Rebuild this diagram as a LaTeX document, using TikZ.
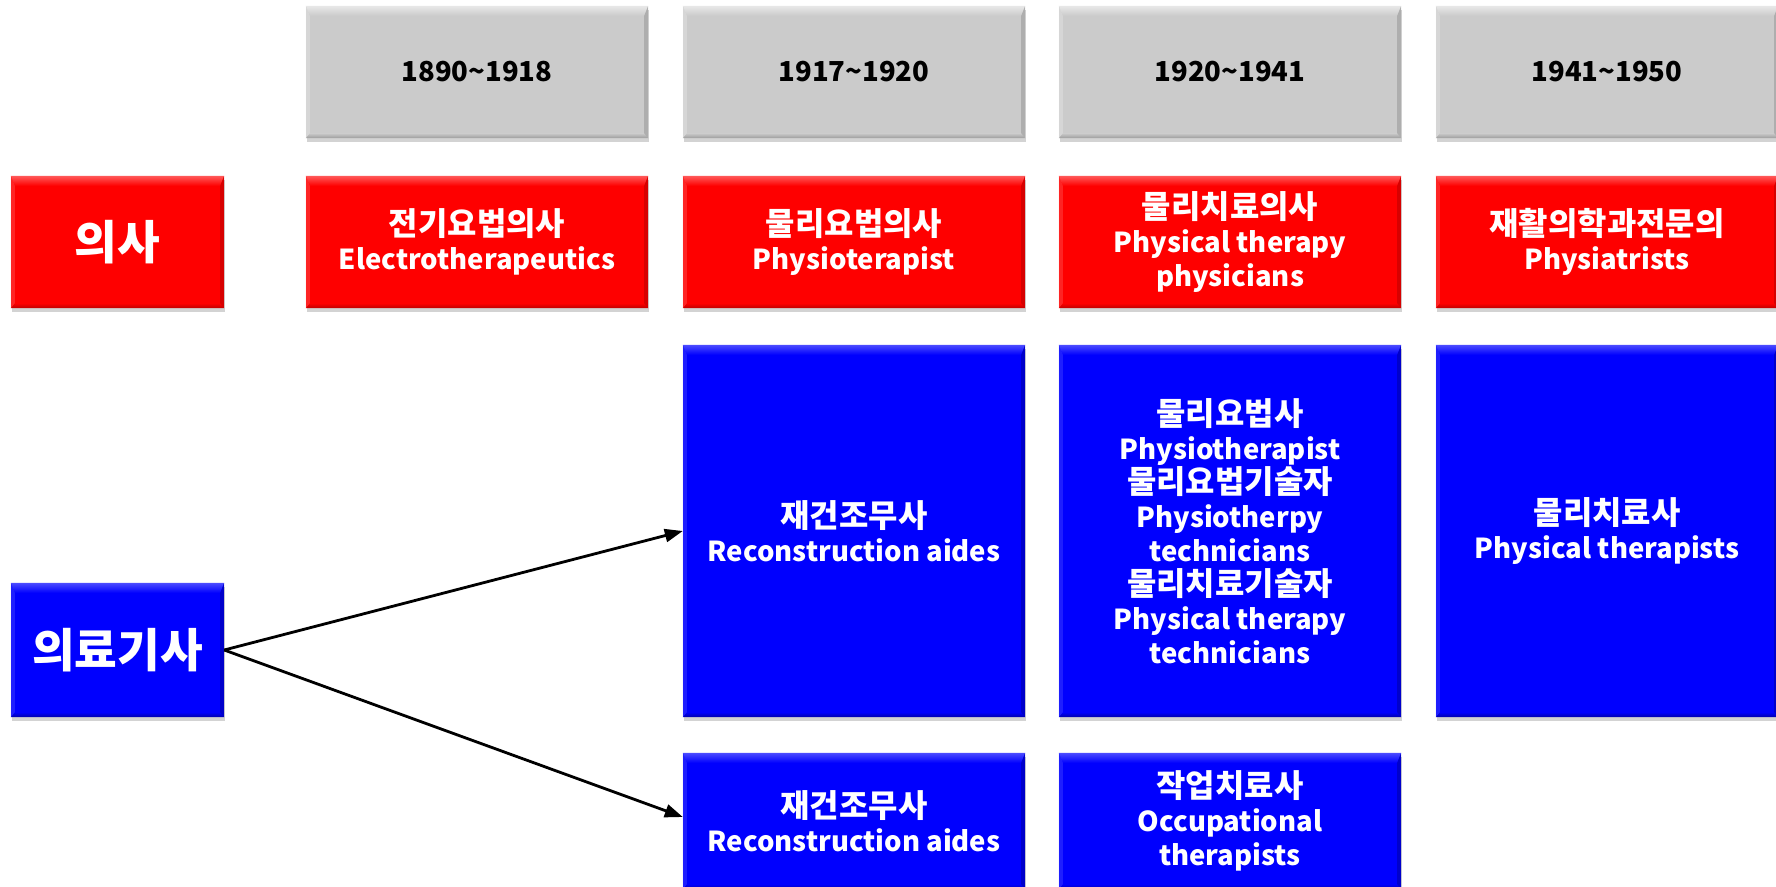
\documentclass[tikz,border=0pt]{standalone}
\usepackage{fontspec}
\setmainfont{Noto Sans CJK KR}
\newfontfamily\ko{Noto Sans CJK KR}[Scale=1.16]
\usetikzlibrary{calc,shadows,arrows.meta}
\definecolor{gbase}{HTML}{CBCBCB}
\definecolor{glight}{HTML}{E8E8E8}
\definecolor{gdark}{HTML}{9C9C9C}
\definecolor{rbase}{HTML}{FE0000}
\definecolor{rlight}{HTML}{FF5A5A}
\definecolor{rdark}{HTML}{BE0000}
\definecolor{bbase}{HTML}{0000FE}
\definecolor{blight}{HTML}{4C4CFF}
\definecolor{bdark}{HTML}{0000AA}
\tikzset{
  cell/.style={inner sep=0pt, align=center, font=\bfseries\fontsize{27.5}{34}\selectfont,
    drop shadow={opacity=0.35, shadow xshift=1pt, shadow yshift=-4pt}},
  graycell/.style={cell, fill=gbase, text=black, minimum width=342pt, minimum height=132pt},
  redcell/.style={cell, fill=rbase, text=white, minimum width=342pt, minimum height=132pt},
  bluecell/.style={cell, fill=bbase, text=white, minimum width=342pt},
  bigcell/.style={font=\bfseries\fontsize{40}{50}\selectfont, minimum width=213pt},
  link/.style={line width=2.8pt, -{Triangle[length=18pt,width=13pt]}}
}
\newcommand\bevelit[4]{%
  \shade[top color=#2, bottom color=#3] (#1.north west) -- (#1.north east) -- ($(#1.north east)+(-4,10)$) -- ($(#1.north west)+(4,10)$) -- cycle;
  \shade[top color=#3, bottom color=#4] ($(#1.south west)+(4,-5)$) -- ($(#1.south east)+(-4,-5)$) -- (#1.south east) -- (#1.south west) -- cycle;
  \fill[#4, opacity=0.6] (#1.north east) -- (#1.south east) -- ($(#1.south east)+(-4,-5)$) -- ($(#1.north east)+(-4,10)$) -- cycle;
  \fill[#2, opacity=0.4] (#1.north west) -- (#1.south west) -- ($(#1.south west)+(4,-5)$) -- ($(#1.north west)+(4,10)$) -- cycle;
}
\begin{document}
\begin{tikzpicture}[x=1pt,y=-1pt]
\useasboundingbox (0,0) rectangle (1776,886);
% period header
\node[graycell] (g1) at (477,72) {1890\textasciitilde 1918};
\node[graycell] (g2) at (854,72) {1917\textasciitilde 1920};
\node[graycell] (g3) at (1230,72) {1920\textasciitilde 1941};
\node[graycell] (g4) at (1607,72) {1941\textasciitilde 1950};
% doctors
\node[redcell, bigcell] (r0) at (117.5,242) {\ko 의사};
\node[redcell] (r1) at (477,242) {{\ko 전기요법의사}\\Electrotherapeutics};
\node[redcell] (r2) at (854,242) {{\ko 물리요법의사}\\Physioterapist};
\node[redcell] (r3) at (1230,242) {{\ko 물리치료의사}\\Physical therapy\\physicians};
\node[redcell] (r4) at (1607,242) {{\ko 재활의학과전문의}\\Physiatrists};
% medical technicians
\node[bluecell, bigcell, minimum height=134pt] (b0) at (117.5,650) {\ko 의료기사};
\node[bluecell, minimum height=372pt] (b1) at (854,531) {{\ko 재건조무사}\\Reconstruction aides};
\node[bluecell, minimum height=372pt] (b2) at (1230,531) {{\ko 물리요법사}\\Physiotherapist\\{\ko 물리요법기술자}\\Physiotherpy\\technicians\\{\ko 물리치료기술자}\\Physical therapy\\technicians};
\node[bluecell, minimum height=372pt] (b3) at (1607,531) {{\ko 물리치료사}\\Physical therapists};
\node[bluecell, minimum height=136pt] (b4) at (854,821) {{\ko 재건조무사}\\Reconstruction aides};
\node[bluecell, minimum height=136pt] (b5) at (1230,821) {{\ko 작업치료사}\\Occupational\\therapists};
% bevels
\foreach \n in {g1,g2,g3,g4}{\bevelit{\n}{glight}{gbase}{gdark}}
\foreach \n in {r0,r1,r2,r3,r4}{\bevelit{\n}{rlight}{rbase}{rdark}}
\foreach \n in {b0,b1,b2,b3,b4,b5}{\bevelit{\n}{blight}{bbase}{bdark}}
% connectors
\draw[link] (b0.east) -- (b1.west);
\draw[link] (b0.east) -- ($(b4.west)+(0,-4)$);
\end{tikzpicture}
\end{document}
